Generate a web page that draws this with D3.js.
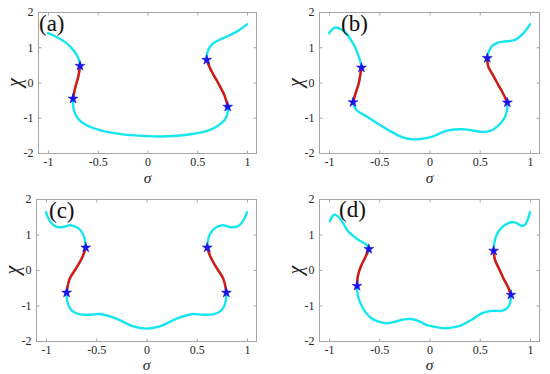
<!DOCTYPE html>
<html><head><meta charset="utf-8">
<script src="https://cdn.jsdelivr.net/npm/d3@7"></script>
<style>
html,body{margin:0;padding:0;background:#fff;}
svg{display:block;}
svg text{font-family:"Liberation Serif","Times New Roman",serif !important;}
</style></head>
<body>
<svg id="chart" width="550" height="374"></svg>
<script>
// ---- data: (sigma, chi) points along each curve ----
const curveA = [[-1.00,1.40],[-0.90,1.27],[-0.81,1.11],[-0.74,0.90],[-0.695,0.69],[-0.678,0.47],
  [-0.695,0.17],[-0.728,-0.17],[-0.748,-0.46],[-0.74,-0.78],[-0.70,-1.02],[-0.62,-1.20],[-0.48,-1.35],
  [-0.25,-1.47],[0.00,-1.52],[0.12,-1.53],[0.30,-1.51],[0.45,-1.46],[0.60,-1.37],[0.70,-1.24],
  [0.77,-1.08],[0.80,-0.92],[0.806,-0.69],[0.778,-0.40],[0.711,-0.02],[0.645,0.31],[0.595,0.64],
  [0.628,1.02],[0.70,1.18],[0.796,1.30],[0.90,1.45],[1.00,1.65]];
const starsA = [5, 8, 22, 26];

const curveB = [[-1.00,1.40],[-0.965,1.52],[-0.93,1.56],[-0.89,1.52],[-0.844,1.44],[-0.79,1.24],
  [-0.744,1.02],[-0.694,0.64],[-0.677,0.42],[-0.69,0.20],[-0.704,-0.02],[-0.735,-0.30],[-0.761,-0.56],
  [-0.727,-0.78],[-0.62,-0.97],[-0.545,-1.11],[-0.378,-1.40],[-0.28,-1.54],[-0.18,-1.61],[-0.08,-1.60],
  [0.02,-1.54],[0.186,-1.36],[0.353,-1.33],[0.519,-1.40],[0.60,-1.38],[0.652,-1.30],[0.752,-0.97],
  [0.775,-0.57],[0.73,-0.30],[0.685,-0.07],[0.63,0.22],[0.585,0.45],[0.575,0.69],[0.619,1.02],
  [0.68,1.13],[0.735,1.16],[0.852,1.21],[0.935,1.40],[1.00,1.65]];
const starsB = [8, 12, 27, 32];

const curveC = [[-1.00,1.63],[-0.96,1.37],[-0.90,1.22],[-0.83,1.21],[-0.76,1.26],[-0.68,1.18],
  [-0.63,1.00],[-0.612,0.82],[-0.605,0.63],[-0.64,0.35],[-0.70,0.05],[-0.765,-0.25],[-0.795,-0.64],
  [-0.778,-0.99],[-0.74,-1.15],[-0.66,-1.25],[-0.56,-1.26],[-0.46,-1.24],[-0.30,-1.37],[-0.13,-1.59],
  [0.00,-1.65],[0.13,-1.59],[0.30,-1.37],[0.46,-1.24],[0.56,-1.26],[0.66,-1.25],[0.74,-1.15],
  [0.778,-0.99],[0.795,-0.64],[0.765,-0.25],[0.70,0.05],[0.64,0.35],[0.605,0.63],[0.612,0.82],
  [0.63,1.00],[0.68,1.18],[0.76,1.26],[0.83,1.21],[0.90,1.22],[0.96,1.37],[1.00,1.63]];
const starsC = [8, 12, 28, 32];

const curveD = [[-0.993,1.37],[-0.97,1.50],[-0.95,1.56],[-0.92,1.53],[-0.894,1.46],[-0.85,1.27],
  [-0.811,1.09],[-0.76,0.96],[-0.711,0.85],[-0.627,0.71],[-0.604,0.59],[-0.64,0.35],[-0.677,0.14],
  [-0.711,-0.14],[-0.721,-0.45],[-0.714,-0.70],[-0.694,-0.89],[-0.64,-1.18],[-0.578,-1.36],[-0.50,-1.46],
  [-0.428,-1.50],[-0.35,-1.46],[-0.25,-1.39],[-0.179,-1.38],[-0.10,-1.45],[-0.046,-1.53],[0.05,-1.60],
  [0.153,-1.64],[0.25,-1.61],[0.32,-1.55],[0.42,-1.40],[0.519,-1.22],[0.60,-1.16],[0.652,-1.15],
  [0.72,-1.15],[0.77,-1.08],[0.801,-0.94],[0.811,-0.70],[0.78,-0.47],[0.735,-0.23],[0.69,0.05],
  [0.652,0.285],[0.639,0.54],[0.645,0.75],[0.669,0.99],[0.72,1.20],[0.785,1.32],[0.83,1.35],
  [0.868,1.32],[0.91,1.25],[0.945,1.26],[0.975,1.40],[1.00,1.63]];
const starsD = [10, 14, 37, 42];

const xTicks = [-1, -0.5, 0, 0.5, 1];
const yTicks = [-2, -1, 0, 1, 2];
const xTickLabels = ["-1", "-0.5", "0", "0.5", "1"];
const yTickLabels = ["-2", "-1", "0", "1", "2"];
const panelLabels = ["(a)", "(b)", "(c)", "(d)"];

// ---- layout ----
const layout = [
  {x0:38,  x1:257, y0:12,  y1:153, lx:39,  ly:31,   sy:30},
  {x0:319, x1:540, y0:12,  y1:153, lx:341, ly:30.5, sy:30},
  {x0:36,  x1:257, y0:199, y1:341, lx:49,  ly:218,  sy:28.5},
  {x0:319, x1:540, y0:199, y1:341, lx:339, ly:217,  sy:28.5}
];
const curves = [curveA, curveB, curveC, curveD];
const stars = [starsA, starsB, starsC, starsD];

const svg = d3.select("#chart");
const CYAN = "#14e6f0", RED = "#e3120b", BLUE = "#1a14e6", BOX = "#a6a6a6", TXT = "#262626";
const SERIF = "'Liberation Serif', 'Times New Roman', serif";

layout.forEach((L, i) => {
  const x = d3.scaleLinear().domain([-1.1, 1.1]).range([L.x0, L.x1]);
  const y = d3.scaleLinear().domain([-2, 2]).range([L.y1, L.y0]);
  const g = svg.append("g");

  // box
  g.append("rect").attr("x", L.x0 + 0.5).attr("y", L.y0 + 0.5)
    .attr("width", L.x1 - L.x0 - 1).attr("height", L.y1 - L.y0)
    .attr("fill", "none").attr("stroke", BOX).attr("stroke-width", 1);

  // axes (inside ticks, mirrored)
  const tk = 3;
  const xb = g.append("g").attr("transform", `translate(0,${L.y1 + 0.5})`)
    .call(d3.axisBottom(x).tickValues(xTicks).tickSize(-tk).tickPadding(4)
      .tickFormat((d, j) => xTickLabels[j]));
  const xt = g.append("g").attr("transform", `translate(0,${L.y0 + 0.5})`)
    .call(d3.axisTop(x).tickValues(xTicks).tickSize(-tk).tickFormat(""));
  const yl = g.append("g").attr("transform", `translate(${L.x0 + 0.5},0)`)
    .call(d3.axisLeft(y).tickValues(yTicks).tickSize(-tk).tickPadding(5)
      .tickFormat((d, j) => yTickLabels[j]));
  const yr = g.append("g").attr("transform", `translate(${L.x1 - 0.5},0)`)
    .call(d3.axisRight(y).tickValues(yTicks).tickSize(-tk).tickFormat(""));
  [xb, xt, yl, yr].forEach(a => {
    a.attr("font-family", SERIF).attr("font-size", 12);
    a.select(".domain").remove();
    a.selectAll(".tick line").attr("stroke", BOX);
    a.selectAll(".tick text").attr("fill", TXT).style("font-family", SERIF).style("font-size", "12px");
  });

  // axis labels
  g.append("text").attr("x", (L.x0 + L.x1) / 2).attr("y", L.y1 + L.sy)
    .attr("text-anchor", "middle").style("font-size", "15.5px").attr("font-style", "italic")
    .style("font-family", SERIF).attr("fill", TXT).text("σ");
  const cy = (L.y0 + L.y1) / 2;
  const cx = L.x0 - 23;
  g.append("text").attr("transform", `translate(${cx},${cy}) rotate(-90)`)
    .attr("text-anchor", "middle").attr("dy", "0.3em").style("font-size", "20px").attr("font-style", "italic")
    .style("font-family", SERIF).attr("fill", TXT).text("χ");

  // curves
  const line = d3.line().x(d => x(d[0])).y(d => y(d[1])).curve(d3.curveCatmullRom.alpha(0.5));
  const pts = curves[i], s = stars[i];
  g.append("path").attr("d", line(pts)).attr("fill", "none")
    .attr("stroke", CYAN).attr("stroke-width", 2.4).attr("stroke-linecap", "round");
  [[s[0], s[1]], [s[2], s[3]]].forEach(([a, b]) => {
    g.append("path").attr("d", line(pts.slice(a, b + 1))).attr("fill", "none")
      .attr("stroke", RED).attr("stroke-width", 2.4);
  });
  // stars
  g.selectAll("path.star").data(s.map(k => pts[k])).enter().append("path")
    .attr("class", "star")
    .attr("transform", d => `translate(${x(d[0])},${y(d[1])})`)
    .attr("d", d3.symbol(d3.symbolStar, 30))
    .attr("fill", BLUE).attr("stroke", BLUE).attr("stroke-width", 0.6);

  // panel label
  g.append("text").attr("x", L.lx).attr("y", L.ly).style("font-size", "23px")
    .style("font-family", SERIF).attr("fill", "#111").text(panelLabels[i]);
});
</script>
</body></html>
